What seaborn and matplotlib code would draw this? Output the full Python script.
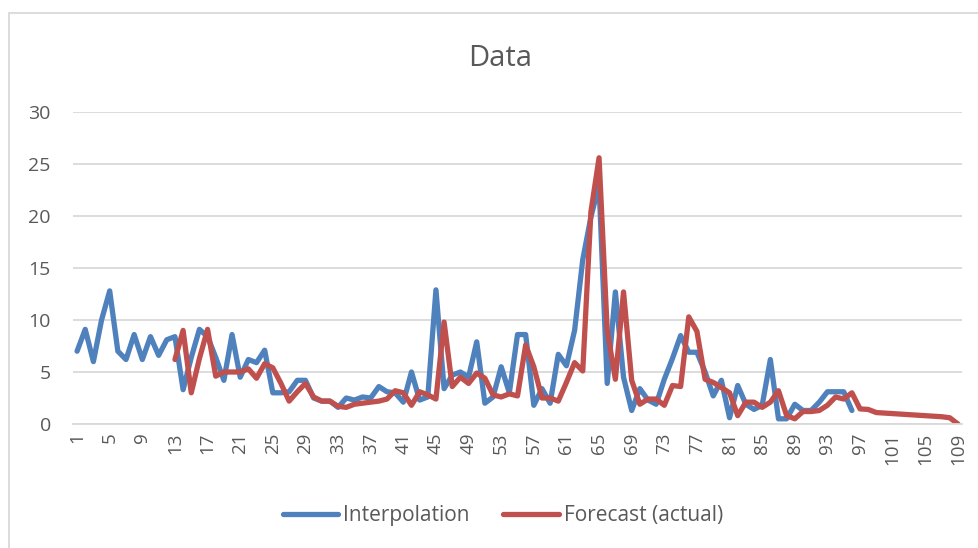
import numpy as np
import pandas as pd
import matplotlib
matplotlib.use("Agg")
import matplotlib.pyplot as plt
import seaborn as sns
from matplotlib.patches import Rectangle
from matplotlib.lines import Line2D

# ---- data ----
interp_x = list(range(1, 97))
interpolation = [
    7.0, 9.1, 6.0, 10.0, 12.8, 7.0, 6.2, 8.6, 6.2, 8.4,
    6.6, 8.1, 8.4, 3.3, 6.4, 9.1, 8.4, 6.4, 4.2, 8.6,
    4.5, 6.2, 5.9, 7.1, 3.0, 3.0, 3.1, 4.2, 4.2, 2.5,
    2.2, 2.2, 1.6, 2.5, 2.3, 2.6, 2.5, 3.6, 3.1, 3.0,
    2.1, 5.0, 2.3, 2.6, 12.9, 3.4, 4.7, 5.0, 4.5, 7.9,
    2.0, 2.6, 5.5, 3.0, 8.6, 8.6, 1.8, 3.4, 2.0, 6.7,
    5.6, 9.0, 15.8, 19.9, 23.0, 3.9, 12.7, 4.5, 1.3, 3.4,
    2.3, 1.9, 4.3, 6.3, 8.5, 6.9, 6.9, 5.0, 2.7, 4.2,
    0.6, 3.7, 1.9, 1.4, 1.8, 6.2, 0.5, 0.5, 1.9, 1.3,
    1.3, 2.1, 3.1, 3.1, 3.1, 1.3,
]
forecast_x = list(range(13, 110))
forecast = [
    6.2, 9.0, 3.0, 6.3, 9.1, 4.6, 5.0, 5.0, 5.0, 5.3,
    4.4, 5.8, 5.4, 3.9, 2.2, 3.1, 3.9, 2.6, 2.2, 2.2,
    1.7, 1.6, 1.9, 2.0, 2.1, 2.2, 2.4, 3.2, 3.0, 1.8,
    3.1, 2.8, 2.4, 9.8, 3.6, 4.5, 3.9, 4.9, 4.4, 2.8,
    2.6, 2.9, 2.7, 7.6, 5.5, 2.5, 2.5, 2.2, 4.0, 5.9,
    5.1, 20.4, 25.6, 9.0, 4.3, 12.7, 4.2, 1.9, 2.4, 2.4,
    1.8, 3.7, 3.6, 10.3, 8.9, 4.3, 4.0, 3.5, 3.0, 0.8,
    2.1, 2.1, 1.6, 2.1, 3.2, 0.8, 0.5, 1.2, 1.2, 1.3,
    1.8, 2.6, 2.4, 3.0, 1.45, 1.4, 1.1, 1.05, 1.0, 0.95,
    0.9, 0.85, 0.8, 0.75, 0.7, 0.6, 0.0,
]
series_names = ["Interpolation", "Forecast (actual)"]
colors = ["#4F81BD", "#C0504D"]
x_ticks = list(range(1, 110, 4))
y_ticks = [0, 5, 10, 15, 20, 25, 30]
title = "Data"

df = pd.concat([
    pd.DataFrame({"x": interp_x, "y": interpolation, "series": series_names[0]}),
    pd.DataFrame({"x": forecast_x, "y": forecast, "series": series_names[1]}),
])

sns.set_theme(style="white")
plt.rcParams["font.family"] = ["Open Sans", "DejaVu Sans"]
text_color = "#595959"

W, H = 979, 548
fig = plt.figure(figsize=(W / 100, H / 100), dpi=100)
ax = fig.add_axes([73 / W, 1 - 424 / H, (962 - 73) / W, (424 - 112) / H])

sns.lineplot(data=df, x="x", y="y", hue="series", hue_order=series_names,
             palette=colors, linewidth=3.8, ax=ax, legend=False,
             estimator=None, sort=False)
for line in ax.lines:
    line.set_solid_capstyle("round")
    line.set_solid_joinstyle("round")

ax.set_xlim(0.5, 109.5)
ax.set_ylim(0, 30)
ax.set_yticks(y_ticks)
ax.set_yticklabels([str(v) for v in y_ticks], fontsize=14, color=text_color)
ax.set_xticks(x_ticks)
ax.set_xticklabels([str(v) for v in x_ticks], rotation=90, fontsize=13.5,
                   color=text_color)
ax.tick_params(axis="both", length=0)
ax.tick_params(axis="x", pad=6)
ax.tick_params(axis="y", pad=16)
ax.set_xlabel("")
ax.set_ylabel("")
ax.grid(axis="y", color="#D9D9D9", linewidth=1.3)
ax.set_axisbelow(True)
for s in ["top", "right", "left"]:
    ax.spines[s].set_visible(False)
ax.spines["bottom"].set_color("#D9D9D9")
ax.spines["bottom"].set_linewidth(1.3)

fig.text(500 / W, 1 - 58 / H, title, ha="center", va="center",
         fontsize=21, color=text_color)

handles = [Line2D([0], [0], color=c, lw=3.8, solid_capstyle="round") for c in colors]
fig.legend(handles, series_names, loc="center", bbox_to_anchor=(503 / W, 1 - 516 / H),
           ncol=2, frameon=False, fontsize=15, labelcolor=text_color,
           handlelength=2.65, handletextpad=0.25, columnspacing=1.6)

fig.patches.append(Rectangle((9 / W, -0.05), 1.05, 1.05 - 13 / H,
                             transform=fig.transFigure, fill=False,
                             edgecolor="#D9D9D9", linewidth=1.3))

fig.savefig("out.png", dpi=100, facecolor="white")
